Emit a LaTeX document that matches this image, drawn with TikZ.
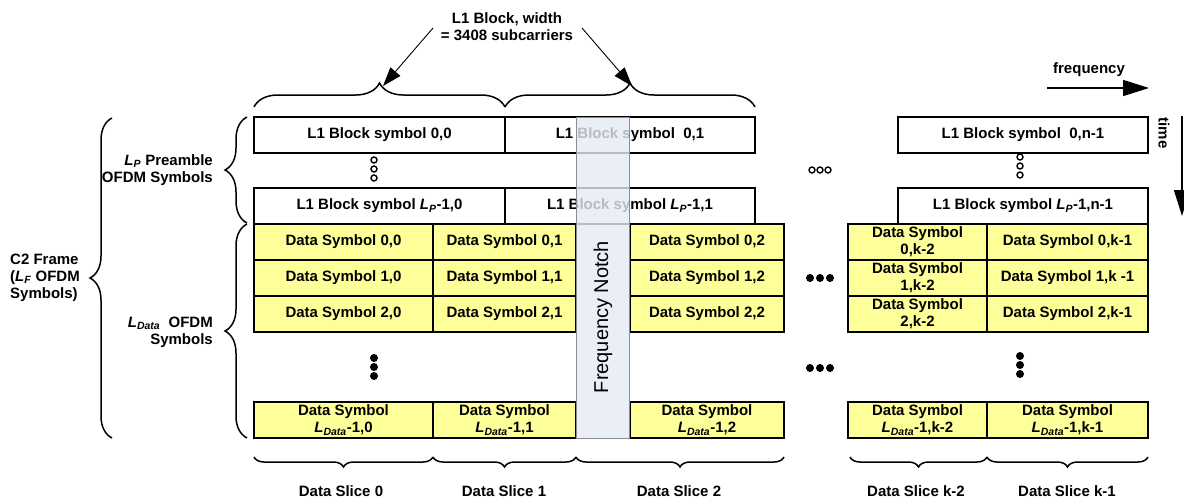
\documentclass[tikz,border=0pt]{standalone}
\usepackage{fontspec}
\setmainfont{Liberation Sans}
\usetikzlibrary{arrows.meta,decorations.pathreplacing}
\definecolor{cellyellow}{RGB}{255,255,153}
\definecolor{notchblue}{RGB}{228,234,245}
\newcommand{\Lsub}[1]{\textit{L}\textsubscript{\textit{#1}}}
\tikzset{
  every node/.style={font=\fontsize{15}{17}\selectfont\bfseries},
  l1box/.style={draw, line width=1.5pt, fill=white, anchor=north west, inner sep=0pt, outer sep=0pt, minimum height=36pt, align=center},
  datacell/.style={draw, line width=1.5pt, fill=cellyellow, anchor=north west, inner sep=0pt, outer sep=0pt, minimum height=36pt, align=center},
  notchbox/.style={draw=black!45, line width=1pt, fill=notchblue, fill opacity=0.8, anchor=north west, inner sep=0pt, minimum width=53pt, minimum height=321pt},
  brc/.style={decorate, line width=1.5pt},
  thinarr/.style={line width=0.9pt, -{Triangle[length=19pt,width=13pt]}},
  bigarr/.style={line width=1.5pt, -{Triangle[length=26pt,width=16pt]}},
  odot/.style={circle, draw, line width=1.4pt, inner sep=0pt, minimum size=6pt},
  fdot/.style={circle, fill, inner sep=0pt, minimum size=8pt},
  lbl/.style={align=center, inner sep=0pt}
}
\begin{document}
\begin{tikzpicture}[x=1pt,y=-1pt]
\useasboundingbox (0,0) rectangle (1184,501);

% L1 block rows
\node[l1box, minimum width=251pt] (a00) at (254,117) {L1 Block symbol 0,0};
\node[l1box, minimum width=250pt] (a01) at (505,117) {L1 Block symbol \ 0,1};
\node[l1box, minimum width=250pt] (a0n) at (898,117) {L1 Block symbol \ 0,n-1};
\node[l1box, minimum width=251pt] (ap0) at (254,188) {L1 Block symbol \Lsub{P}-1,0};
\node[l1box, minimum width=250pt] (ap1) at (505,188) {L1 Block symbol \Lsub{P}-1,1};
\node[l1box, minimum width=250pt] (apn) at (898,188) {L1 Block symbol \Lsub{P}-1,n-1};

% data rows
\foreach \r/\y in {0/224,1/260,2/296}{
  \node[datacell, minimum width=179pt] (d\r c0) at (254,\y) {Data Symbol \r,0};
  \node[datacell, minimum width=143pt] (d\r c1) at (433,\y) {Data Symbol \r,1};
  \node[datacell, minimum width=154pt] (d\r c2) at (630,\y) {Data Symbol \r,2};
}
\node[datacell, minimum width=139pt] (d0k2) at (848,224) {Data Symbol\\0,k-2};
\node[datacell, minimum width=161pt] (d0k1) at (987,224) {Data Symbol 0,k-1};
\node[datacell, minimum width=139pt] (d1k2) at (848,260) {Data Symbol\\1,k-2};
\node[datacell, minimum width=161pt] (d1k1) at (987,260) {Data Symbol 1,k -1};
\node[datacell, minimum width=139pt] (d2k2) at (848,296) {Data Symbol\\2,k-2};
\node[datacell, minimum width=161pt] (d2k1) at (987,296) {Data Symbol 2,k-1};

\node[datacell, minimum width=179pt] (dLc0) at (254,402) {Data Symbol\\\Lsub{Data}-1,0};
\node[datacell, minimum width=143pt] (dLc1) at (433,402) {Data Symbol\\\Lsub{Data}-1,1};
\node[datacell, minimum width=154pt] (dLc2) at (630,402) {Data Symbol\\\Lsub{Data}-1,2};
\node[datacell, minimum width=139pt] (dLk2) at (848,402) {Data Symbol\\\Lsub{Data}-1,k-2};
\node[datacell, minimum width=161pt] (dLk1) at (987,402) {Data Symbol\\\Lsub{Data}-1,k-1};

% frequency notch
\node[notchbox] (notch) at (576,117) {};
\node[rotate=90, font=\fontsize{20}{22}\selectfont, inner sep=0pt] (notchtxt) at (603,317) {Frequency Notch};

% dots
\foreach \x/\y [count=\i] in {374/160,374/169,374/178,1020/157,1020/166,1020/175,812/170,820/170,828/170}
  \node[odot] (o\i) at (\x,\y) {};
\foreach \x/\y [count=\i] in {374/358,374/367,374/376,1020/356,1020/365,1020/374,810/278,820/278,830/278,810/368,820/368,830/368}
  \node[fdot] (f\i) at (\x,\y) {};

% top braces and label
\draw[brc, decoration={brace, amplitude=24pt}] (254,107) -- (505,107);
\draw[brc, decoration={brace, amplitude=24pt}] (505,107) -- (755,107);
\node[lbl] (l1lbl) at (507,27) {L1 Block, width\\= 3408 subcarriers};
\coordinate (tipA) at (383,86);
\coordinate (tipB) at (632,86);
\coordinate (srcA) at (433,28);
\coordinate (srcB) at (582,28);
\draw[thinarr] (srcA) -- (tipA);
\draw[thinarr] (srcB) -- (tipB);

% left braces and labels
\draw[brc, decoration={brace, amplitude=22pt}] (247,223) -- (247,117);
\draw[brc, decoration={brace, amplitude=22pt}] (247,438) -- (247,224);
\draw[brc, decoration={brace, amplitude=22pt}] (112,438) -- (112,118);
\node[lbl, align=right, anchor=east] (lpl) at (213,170) {\Lsub{P} Preamble\\OFDM Symbols};
\node[lbl, align=right, anchor=east] (ldl) at (213,332) {\Lsub{Data} \ OFDM\\Symbols};
\node[lbl, align=left, anchor=west] (c2l) at (10,278) {C2 Frame\\(\Lsub{F} OFDM\\Symbols)};

% bottom braces and labels
\draw[brc, decoration={brace, amplitude=10pt}] (433,457) -- (254,457);
\draw[brc, decoration={brace, amplitude=10pt}] (576,457) -- (433,457);
\draw[brc, decoration={brace, amplitude=10pt}] (784,457) -- (576,457);
\draw[brc, decoration={brace, amplitude=10pt}] (987,457) -- (850,457);
\draw[brc, decoration={brace, amplitude=10pt}] (1148,457) -- (987,457);
\node[lbl] (s0) at (341,491) {Data Slice 0};
\node[lbl] (s1) at (504,491) {Data Slice 1};
\node[lbl] (s2) at (679,491) {Data Slice 2};
\node[lbl] (sk2) at (916,491) {Data Slice k-2};
\node[lbl] (sk1) at (1067,491) {Data Slice k-1};

% frequency and time arrows
\node[lbl] (freq) at (1089,70) {frequency};
\coordinate (fs) at (1047,88);
\coordinate (fe) at (1149,88);
\draw[bigarr] (fs) -- (fe);
\node[lbl, rotate=-90] (time) at (1164,133) {time};
\coordinate (ts) at (1182,116);
\coordinate (te) at (1182,216);
\draw[bigarr] (ts) -- (te);
\end{tikzpicture}
\end{document}
